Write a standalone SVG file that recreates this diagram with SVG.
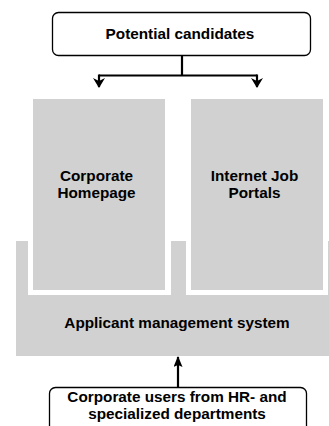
<svg xmlns="http://www.w3.org/2000/svg" width="329" height="426" viewBox="0 0 329 426">
<defs>
<style>
.box{fill:#fff;stroke:#000;stroke-width:1.3}
.gray{fill:#d1d1d1}
.t{font-family:"Liberation Sans",Arial,sans-serif;font-weight:bold;font-size:15.3px;fill:#000;text-anchor:middle}
.c{fill:none;stroke:#000;stroke-width:2.2}
</style>
<marker id="ah" viewBox="0 0 10 12" refX="9" refY="6" markerWidth="10" markerHeight="12" markerUnits="userSpaceOnUse" orient="auto">
<path d="M0,0 L10,6 L0,12 L3,6 Z" fill="#000"/>
</marker>
<marker id="ah2" viewBox="0 0 11 9" refX="10" refY="4.5" markerWidth="11" markerHeight="9" markerUnits="userSpaceOnUse" orient="auto">
<path d="M0,0 L11,4.5 L0,9 L2,4.5 Z" fill="#000"/>
</marker>
</defs>
<rect width="329" height="426" fill="#fff"/>
<g id="ams">
<rect class="gray" x="16" y="241" width="330" height="115"/>
<rect x="28" y="94" width="143" height="201" fill="#fff"/>
<rect x="186" y="94" width="142" height="201" fill="#fff"/>
<text class="t" x="177" y="328">Applicant management system</text>
</g>
<g id="homepage">
<rect class="gray" x="33" y="99" width="132" height="191"/>
<text class="t" x="96.5" y="181">Corporate</text>
<text class="t" x="96.5" y="198">Homepage</text>
</g>
<g id="portals">
<rect class="gray" x="191" y="99" width="132" height="191"/>
<text class="t" x="254.5" y="181">Internet Job</text>
<text class="t" x="254.5" y="198">Portals</text>
</g>
<g id="candidates">
<rect class="box" x="52.5" y="12.5" width="258" height="43" rx="6"/>
<text class="t" x="180" y="39">Potential candidates</text>
</g>
<g id="users">
<rect class="box" x="49.5" y="387.5" width="257" height="60" rx="6"/>
<text class="t" x="177" y="402">Corporate users from HR- and</text>
<text class="t" x="177" y="418.5">specialized departments</text>
</g>
<g id="connectors">
<path class="c" d="M182,56 V75.5 M99,75.5 H257"/>
<path class="c" d="M99,74.5 V87" marker-end="url(#ah)"/>
<path class="c" d="M257,74.5 V87" marker-end="url(#ah)"/>
<path class="c" d="M178,387 V357" marker-end="url(#ah2)"/>
</g>
</svg>
